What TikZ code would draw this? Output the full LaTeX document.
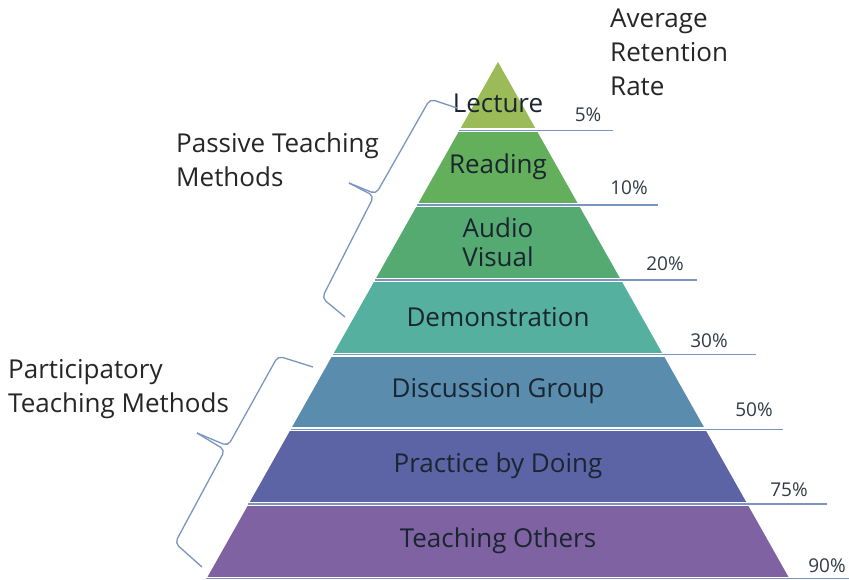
\documentclass[tikz,border=0pt]{standalone}
\usepackage{fontspec}
\setmainfont{Open Sans}
\usetikzlibrary{positioning,calc}
\definecolor{lvlA}{HTML}{9BBB59}
\definecolor{lvlB}{HTML}{63AF5B}
\definecolor{lvlC}{HTML}{55AA72}
\definecolor{lvlD}{HTML}{55B0A0}
\definecolor{lvlE}{HTML}{5A8CAE}
\definecolor{lvlF}{HTML}{5C64A6}
\definecolor{lvlG}{HTML}{7E62A2}
\definecolor{linkblue}{HTML}{7A95C0}
\definecolor{inktext}{HTML}{1A2530}
\tikzset{
  lay/.style={font=\fontsize{26}{29}\selectfont, text=inktext, align=center, inner sep=0pt},
  pct/.style={font=\fontsize{19}{22}\selectfont, text=inktext!90, inner sep=0pt},
  side/.style={font=\fontsize{26}{34}\selectfont, text=black!85, align=left, inner sep=0pt},
  baseln/.style={draw=linkblue, line width=1.5pt},
  brc/.style={draw=linkblue, line width=1.3pt, rounded corners=5pt},
}

\begin{document}
\begin{tikzpicture}[x=1pt,y=-1pt]
  \useasboundingbox (0,0) rectangle (849,580);
  \begin{scope}
    \clip (498,62) -- (207.5,577) -- (788.5,577) -- cycle;
    \foreach \c [count=\i from 0] in {lvlA,lvlB,lvlC,lvlD,lvlE,lvlF,lvlG}{
      \pgfmathsetmacro\yb{128.5+74.7*\i}
      \pgfmathsetmacro\yt{\i==0 ? 60 : \yb-70.7}
      \fill[\c] (150,\yt) rectangle (850,\yb);
    }
  \end{scope}
  \foreach \xe [count=\i from 0] in {613,658,697,756,783,827,850}{
    \pgfmathsetmacro\yl{130.5+74.7*\i}
    \pgfmathsetmacro\xl{498-0.5646*(\yl-62)}
    \draw[baseln] (\xl,\yl) -- (\xe,\yl);
  }
  \foreach \n/\t/\y in {lecture/Lecture/103, reading/Reading/167, audio/{Audio\\Visual}/242,
      demo/Demonstration/317, discuss/Discussion Group/391, practice/Practice by Doing/466,
      teach/Teaching Others/541}
    \node[lay] (\n) at (498,\y) {\t};
  \foreach \p/\x/\y in {5/588/115, 10/629/188, 20/665/264, 30/709/341, 50/754/410, 75/789/490, 90/827/566}
    \node[pct] (p\p) at (\x,\y) {\p\%};
  \node[side, anchor=west] (avg) at (610,52) {Average\\Retention\\Rate};
  \node[side, anchor=west] (passive) at (176,160) {Passive Teaching\\Methods};
  \node[side, anchor=west] (particip) at (8,389) {Participatory\\Teaching Methods};
  \draw[brc] (345,317) -- (322,298) -- (374,196) -- (349,183);
  \draw[brc] (349,183) -- (376,194) -- (430,99) -- (457,108);
  \draw[brc] (202,567) -- (175,543) -- (225,450) -- (197,433);
  \draw[brc] (197,433) -- (228,446) -- (278,356) -- (313,367);
\end{tikzpicture}
\end{document}
